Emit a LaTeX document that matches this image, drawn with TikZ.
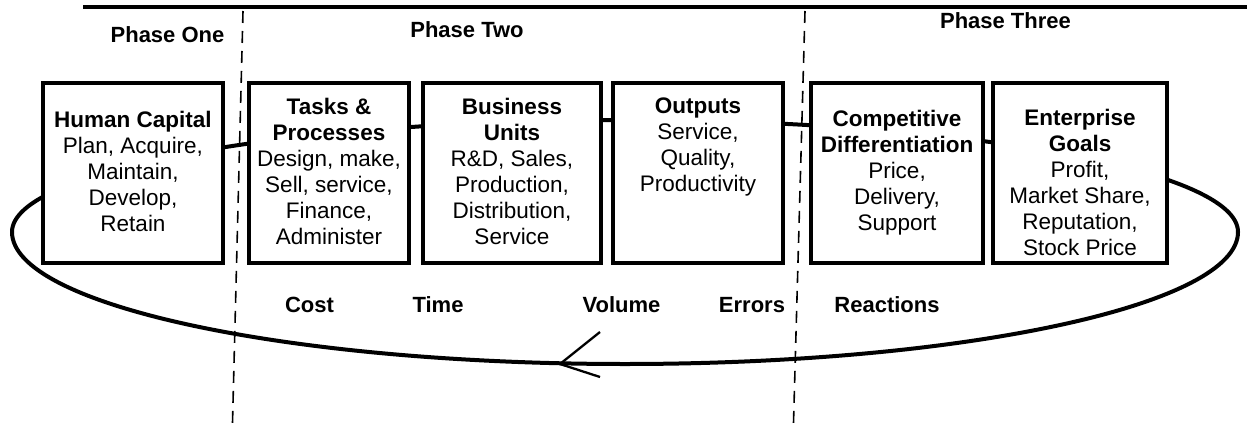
\documentclass[tikz,border=0pt]{standalone}
\usepackage{fontspec}
\setmainfont{Liberation Sans}
\begin{document}
\begin{tikzpicture}[x=1pt,y=-1pt,
  box/.style={draw, line width=3.6pt, fill=white, inner sep=0pt, outer sep=0pt,
              minimum height=180pt, anchor=north west},
  txt/.style={align=center, inner sep=0pt, anchor=north,
              font=\fontsize{22.5}{26}\selectfont},
  lbl/.style={inner sep=0pt, anchor=base, font=\fontsize{22}{26}\selectfont\bfseries},
  loop/.style={line width=4pt},
  barb/.style={line width=2.3pt},
  phase/.style={line width=1.6pt, dash pattern=on 12pt off 8pt}]
\useasboundingbox[fill=white] (0,0) rectangle (1247,423);

% rule under the heading
\draw[line width=3.4pt] (83,7) -- (1247,7);

% feedback loop running behind the boxes
\draw[loop] (12,232) arc[start angle=180, end angle=360, x radius=613, y radius=112]
                     arc[start angle=0, end angle=180, x radius=613, y radius=132];
\coordinate (tip) at (560,364);
\draw[barb] (tip) -- ++(40,-32);
\draw[barb] (tip) -- ++(40,13);

% boxes
\node[box, minimum width=180pt] (hc)  at (43,83)  {};
\node[box, minimum width=160pt] (tp)  at (249,83) {};
\node[box, minimum width=178pt] (bu)  at (423,83) {};
\node[box, minimum width=170pt] (out) at (613,83) {};
\node[box, minimum width=172pt] (cd)  at (811,83) {};
\node[box, minimum width=174pt] (eg)  at (993,83) {};

% box contents
\node[txt] (hc-t)  at (133,111)  {\textbf{Human Capital}\\Plan, Acquire,\\Maintain,\\Develop,\\Retain};
\node[txt] (tp-t)  at (329,97.5) {\textbf{Tasks \&}\\\textbf{Processes}\\Design, make,\\Sell, service,\\Finance,\\Administer};
\node[txt] (bu-t)  at (512,97.5) {\textbf{Business}\\\textbf{Units}\\R\&D, Sales,\\Production,\\Distribution,\\Service};
\node[txt] (out-t) at (698,97.5) {\textbf{Outputs}\\Service,\\Quality,\\Productivity};
\node[txt] (cd-t)  at (897,110)  {\textbf{Competitive}\\\textbf{Differentiation}\\Price,\\Delivery,\\Support};
\node[txt] (eg-t)  at (1080,109) {\textbf{Enterprise}\\\textbf{Goals}\\Profit,\\Market Share,\\Reputation,\\Stock Price};

% phase boundaries
\coordinate (d1t) at (243,11);  \coordinate (d1b) at (232.5,423);
\coordinate (d2t) at (805,11);  \coordinate (d2b) at (793.5,423);
\draw[phase] (d1t) -- (d1b);
\draw[phase] (d2t) -- (d2b);

% phase headings
\node[lbl] (p1) at (167.5,42) {Phase One};
\node[lbl] (p2) at (467,37)   {Phase Two};
\node[lbl] (p3) at (1005.5,28) {Phase Three};

% measures along the loop
\node[lbl] (m1) at (309.5,312) {Cost};
\node[lbl] (m2) at (438,312)   {Time};
\node[lbl] (m3) at (621.5,312) {Volume};
\node[lbl] (m4) at (752,312)   {Errors};
\node[lbl] (m5) at (887,312)   {Reactions};
\end{tikzpicture}
\end{document}
